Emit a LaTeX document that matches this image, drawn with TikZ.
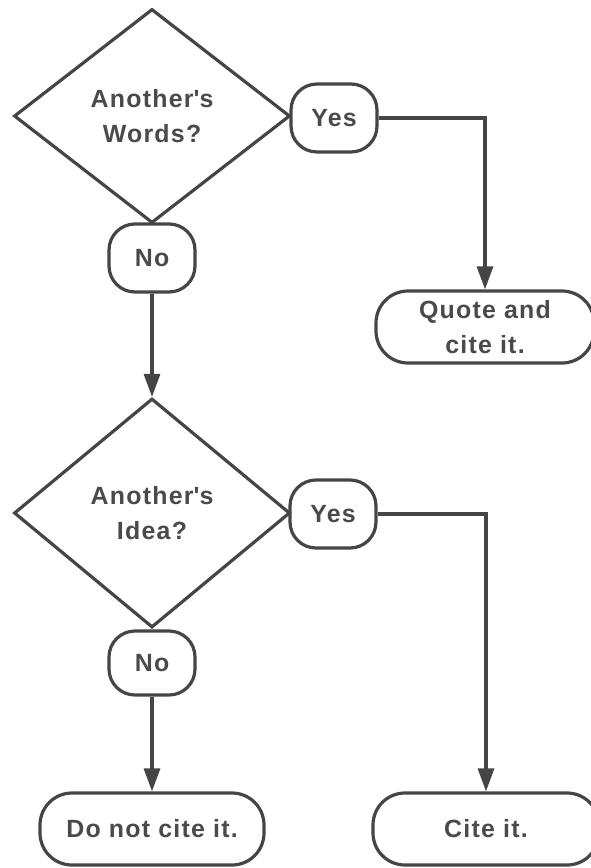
\documentclass[tikz,border=0pt]{standalone}
\usepackage{fontspec}
\setmainfont{Liberation Sans}[LetterSpace=5]
\usetikzlibrary{arrows.meta,shapes,positioning}

\definecolor{inkgrey}{HTML}{454545}
\definecolor{textgrey}{HTML}{4A4A4A}

\tikzset{
	question/.style={diamond, draw=inkgrey, line width=3.2bp, inner sep=0pt,
		minimum width=276bp, minimum height=214bp, text=textgrey,
		font=\fontsize{25}{35}\selectfont\bfseries, align=center},
	answer/.style={rectangle, rounded corners=26bp, draw=inkgrey, line width=3.2bp,
		inner sep=0pt, minimum width=86bp, minimum height=68bp, text=textgrey,
		font=\fontsize{25}{35}\selectfont\bfseries, align=center},
	outcome/.style={answer, rounded corners=32bp, minimum width=222bp, minimum height=72bp},
	flow/.style={draw=inkgrey, line width=3.2bp, -{Triangle[length=23bp,width=16bp]}}
}

\begin{document}
\begin{tikzpicture}[x=10bp,y=-10bp]
			\clip (0,0) rectangle (59.1,86.8);
			
			% Words
			\node[question] (words) at (15.2,11.6) {Another\textquotesingle s\\Words?};
			\node[answer] (yesw) at (33.4,11.8) {Yes};
			\node[answer] (now) at (15.2,25.8) {No};
			\node[outcome, minimum width=218bp] (quote) at (48.5,32.7) {Quote and\\cite it.};
			\draw[flow] (yesw) -| (quote);
			
			% Idea
			\node[question, minimum height=229bp] (idea) at (15.2,51.3) {Another\textquotesingle s\\Idea?};
			\node[answer] (yesi) at (33.3,51.4) {Yes};
			\node[answer, minimum height=64bp] (noi) at (15.2,66.3) {No};
			\draw[flow] (now) -- (idea);
			
			% Outcomes
			\node[outcome, minimum width=224bp] (nocite) at (15.2,82.9) {Do not cite it.};
			\node[outcome, minimum width=226bp] (cite) at (48.6,82.9) {Cite it.};
			\draw[flow] (noi) -- (nocite);
			\draw[flow] (yesi) -| (cite);
		\end{tikzpicture}
\end{document}
